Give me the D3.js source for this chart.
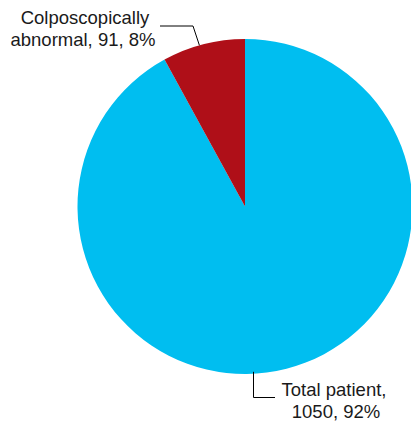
<!DOCTYPE html>
<html><head><meta charset="utf-8">
<script src="https://cdn.jsdelivr.net/npm/d3@7"></script>
<style>html,body{margin:0;padding:0;background:#fff;overflow:hidden}</style>
</head><body>
<svg id="chart" width="411" height="423"></svg>
<script>
const categories = ["Total patient", "Colposcopically abnormal"];
const values = [1050, 91];
const percents = ["92%", "8%"];
const colors = ["#00BEF0", "#AF0F18"];

const svg = d3.select("#chart");
const cx = 245, cy = 206.5, r = 167.5;
const pie = d3.pie().sort(null).value(d => d.v);
const arcs = pie(categories.map((c, i) => ({c, v: values[i], i})));
const arc = d3.arc().innerRadius(0).outerRadius(r);
const g = svg.append("g").attr("transform", `translate(${cx},${cy})`);
g.selectAll("path").data(arcs).enter().append("path")
  .attr("d", arc).attr("fill", d => colors[d.data.i]);

const font = "Liberation Sans, Arial, sans-serif";
// Label for small slice
const a1 = arcs[1];
const ang1 = a1.startAngle + (a1.endAngle - a1.startAngle) * 0.45;
const ex1 = cx + Math.sin(ang1) * r;
const ey1 = cy - Math.cos(ang1) * r;
svg.append("polyline")
  .attr("points", `160,26 193,26 ${ex1.toFixed(1)},${ey1.toFixed(1)}`)
  .attr("fill", "none").attr("stroke", "#000").attr("stroke-width", 1);
const t1 = svg.append("text").attr("font-family", font).attr("font-size", 18.5)
  .attr("text-anchor", "middle").attr("fill", "#1a1a1a");
t1.append("tspan").attr("x", 85).attr("y", 24).text("Colposcopically");
t1.append("tspan").attr("x", 83).attr("y", 46).text(`abnormal, ${values[1]}, ${percents[1]}`);

// Label for big slice
const by = cy + r * Math.cos(Math.asin((253.5 - cx) / r));
svg.append("polyline")
  .attr("points", `253.5,${(by - 2).toFixed(1)} 253.5,397.5 275,397.5`)
  .attr("fill", "none").attr("stroke", "#000").attr("stroke-width", 1);
const t0 = svg.append("text").attr("font-family", font).attr("font-size", 18.5)
  .attr("text-anchor", "middle").attr("fill", "#1a1a1a");
t0.append("tspan").attr("x", 334).attr("y", 396).text("Total patient,");
t0.append("tspan").attr("x", 336).attr("y", 418).text(`${values[0]}, ${percents[0]}`);
</script>
</body></html>
